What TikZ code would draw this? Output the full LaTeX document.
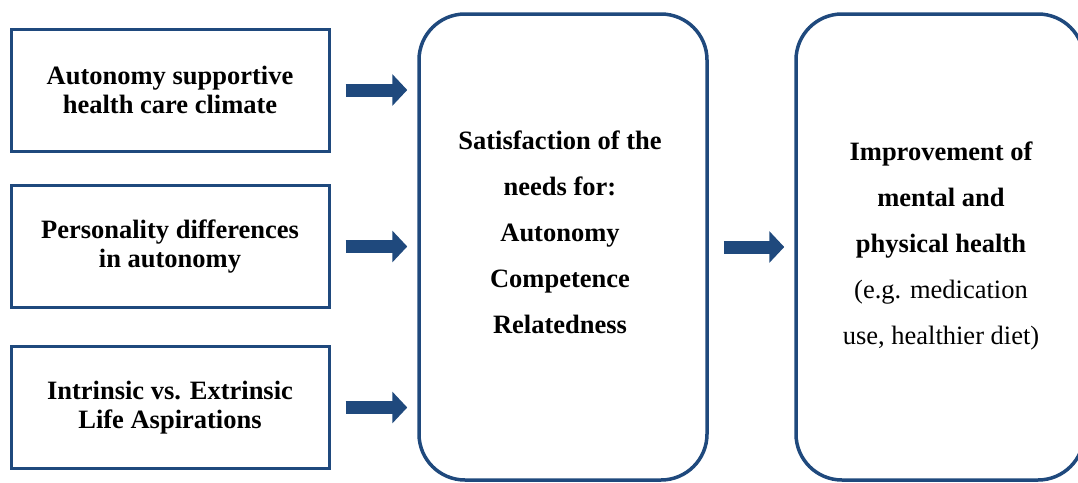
\documentclass[tikz,border=0pt]{standalone}
\usepackage{fontspec}
\setmainfont{Liberation Serif}
\usetikzlibrary{arrows.meta}
\definecolor{navy}{HTML}{1F497D}
\begin{document}
\begin{tikzpicture}[x=1pt,y=-1pt,
  factor/.style={draw=navy,line width=3pt,minimum width=318pt,minimum height=122pt,
    align=center,font=\fontsize{26.5}{29}\selectfont\bfseries},
  stage/.style={draw=navy,line width=3.5pt,rounded corners=46pt,minimum width=288pt,minimum height=466pt},
  stagetext/.style={align=center,font=\fontsize{26.5}{46}\selectfont},
  fat/.style={navy,line width=13pt,-{Triangle[length=15pt,width=31pt]}}]
\useasboundingbox (0,0) rectangle (1078,482);
\node[factor] (F1) at (170,90) {Autonomy supportive\\health care climate};
\node[factor] (F2) at (170,246.5) {Personality differences\\in autonomy};
\node[factor] (F3) at (170,407.5) {Intrinsic vs. Extrinsic\\Life Aspirations};
\node[stage] (N) at (563,247) {};
\node[stage] (H) at (940,247) {};
\node[stagetext] (Ntext) at (560,232) {\bfseries Satisfaction of the\\\bfseries needs for:\\\bfseries Autonomy\\\bfseries Competence\\\bfseries Relatedness};
\node[stagetext] (Htext) at (941,246) {\bfseries Improvement of\\\bfseries mental and\\\bfseries physical health\\(e.g. medication\\use, healthier diet)};
\draw[fat] ([xshift=15pt]F1.east) -- ([xshift=-10pt]F1.east-|N.west);
\draw[fat] ([xshift=15pt]F2.east) -- ([xshift=-10pt]F2.east-|N.west);
\draw[fat] ([xshift=15pt]F3.east) -- ([xshift=-10pt]F3.east-|N.west);
\draw[fat] ([xshift=15pt]N.east) -- ([xshift=-10pt]H.west);
\end{tikzpicture}
\end{document}
